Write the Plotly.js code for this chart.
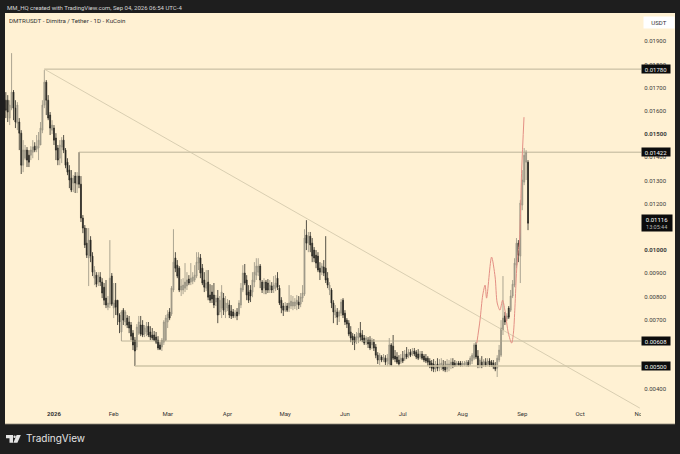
<!DOCTYPE html>
<html>
<head>
<meta charset="utf-8">
<script src="https://cdn.plot.ly/plotly-3.0.1.min.js"></script>
<style>html,body{margin:0;padding:0;background:#1e1e1e}</style>
</head>
<body>
<div id="chart" style="width:680px;height:454px"></div>
<script>
// daily candles from 2025-12-07 to 2026-09-04, prices in 0.00001 USDT
var opens = [
1646,1646,1569,1612,1681,1612,1547,1552,1504,1366,
1396,1431,1409,1409,1422,1448,1435,1440,1453,1517,
1625,1724,1646,1582,1517,1526,1483,1440,1396,1444,
1474,1431,1379,1345,1310,1289,1319,1284,1319,1284,
1138,1095,1030,966,1043,974,879,892,862,884,
862,840,793,754,767,888,750,784,784,720,
647,741,690,707,690,677,642,612,582,642,
677,677,638,647,672,647,634,634,625,612,
591,582,603,612,690,733,724,828,966,935,
922,828,828,836,845,875,862,866,871,888,
944,966,922,871,836,862,806,819,806,776,
793,733,750,793,733,750,763,737,733,716,
733,724,763,828,901,871,819,828,819,862,
892,905,931,862,836,862,858,828,845,832,
836,879,836,784,759,741,759,750,759,759,
759,767,776,767,793,810,1065,1030,1060,1030,
1000,978,974,922,905,927,922,879,828,828,
772,720,733,716,728,784,728,698,685,647,
629,625,612,621,642,634,621,603,612,612,
591,603,582,547,526,539,526,534,522,509,
591,586,543,539,526,517,534,530,552,543,
560,552,565,560,552,539,552,543,534,534,
522,513,509,487,509,491,496,504,500,487,
496,500,517,513,504,513,513,504,504,504,
517,509,522,534,591,543,500,517,504,517,
509,522,517,513,504,491,526,547,655,716,
703,750,741,802,849,935,1030,974,1194,1293,
1379,1379];
var highs = [
1681,1668,1646,1849,1690,1646,1638,1569,1517,1474,
1453,1444,1431,1448,1474,1465,1496,1509,1552,1646,
1776,1733,1668,1595,1560,1539,1504,1453,1474,1487,
1496,1440,1396,1366,1345,1323,1336,1336,1422,1319,
1151,1108,1095,1095,1060,991,931,905,905,905,
879,858,871,802,1043,901,858,858,784,728,
741,750,741,720,716,690,655,625,681,716,
716,698,677,690,690,672,664,651,647,629,
603,621,698,720,741,750,845,1090,991,957,
931,875,879,944,905,892,944,905,935,991,
991,983,940,905,914,914,853,849,858,806,
828,802,849,815,802,789,784,763,746,741,
750,784,858,935,940,892,849,849,905,948,
965,965,940,871,879,871,875,871,862,888,
892,905,849,797,772,776,772,849,806,802,
793,806,802,815,849,1090,1129,1078,1078,1052,
1013,1000,991,948,944,957,1060,905,862,836,
784,763,750,741,789,793,741,707,698,672,
642,638,647,664,690,655,634,629,625,629,
621,616,595,560,556,547,552,547,552,621,
599,634,569,560,547,552,565,569,582,573,
573,578,578,569,573,565,565,552,552,543,
534,526,530,522,534,530,534,526,522,530,
526,534,534,526,522,522,522,522,522,526,
526,543,556,599,603,569,534,543,530,534,
534,534,526,526,517,547,591,698,888,733,
728,759,828,871,965,1052,1043,1215,1345,1440,
1431,1388];
var lows = [
1569,1552,1539,1603,1560,1526,1517,1431,1328,1336,
1388,1358,1358,1388,1396,1422,1422,1388,1453,1504,
1612,1582,1560,1496,1500,1453,1388,1366,1366,1375,
1418,1353,1323,1267,1250,1250,1246,1246,1267,1121,
1073,1009,966,845,948,888,849,840,845,845,
793,763,750,741,750,759,707,720,677,642,
608,677,672,664,642,612,569,500,569,634,
629,625,625,629,625,612,612,608,595,569,
569,565,591,608,664,698,716,819,905,879,
819,802,810,819,828,849,849,853,862,879,
914,879,849,819,823,784,772,772,750,759,
685,720,707,720,707,737,707,703,707,707,
698,716,750,819,849,784,772,776,797,840,
871,888,836,815,810,810,815,815,815,815,
823,828,763,728,716,733,733,733,746,741,
746,741,746,754,776,802,1000,991,991,948,
948,922,905,871,892,888,858,836,806,750,
685,707,677,690,716,707,677,664,629,603,
591,569,595,599,608,603,591,591,578,569,
573,565,534,509,504,517,517,504,500,500,
500,526,517,509,500,509,513,522,530,534,
539,543,543,530,526,530,526,517,513,500,
491,478,474,474,478,478,483,478,474,474,
478,487,491,496,496,500,496,496,500,496,
496,500,509,526,530,491,491,491,496,496,
500,496,496,487,478,453,517,539,634,677,
694,703,733,793,840,922,948,858,1172,1280,
1302,1086];
var closes = [
1603,1595,1625,1681,1612,1552,1625,1504,1366,1431,
1431,1388,1379,1431,1444,1431,1448,1474,1526,1625,
1724,1646,1569,1526,1539,1474,1431,1388,1453,1474,
1431,1366,1336,1302,1259,1310,1289,1319,1284,1138,
1095,1022,978,1043,974,905,914,853,892,862,
815,784,763,772,879,767,772,754,720,690,
733,698,733,677,664,629,591,565,668,690,
638,634,664,672,634,625,621,612,603,578,
573,612,690,707,724,707,836,948,922,888,
828,845,849,862,871,858,879,884,892,948,
970,901,858,840,858,797,784,789,763,793,
720,784,819,741,772,772,720,716,716,728,
716,772,836,901,858,806,784,802,871,905,
931,931,871,828,862,828,828,849,828,849,
858,840,772,750,741,759,741,772,780,776,
776,784,763,797,815,1052,1030,1060,1022,974,
966,944,914,905,931,901,871,849,849,772,
733,741,711,733,776,720,690,681,638,621,
612,603,629,642,625,612,599,621,595,578,
612,578,547,526,547,526,539,517,534,591,
504,534,530,517,509,534,522,552,539,560,
547,565,552,539,534,552,534,526,522,517,
504,491,487,504,491,509,513,487,483,509,
509,517,500,500,513,504,500,513,513,517,
500,534,547,591,539,504,526,500,522,504,
522,504,504,496,487,534,569,664,707,690,
716,711,802,853,944,1030,978,1203,1302,1409,
1422,1116];

var level_values = [0.0178, 0.01422, 0.00608, 0.005];
var level_starts = ['2025-12-27', '2026-01-14', '2026-02-05', '2026-02-12'];
var level_labels = ['0.01780', '0.01422', '0.00608', '0.00500'];

var trend_dates = ['2025-12-27', '2026-11-01'];
var trend_prices = [0.0178, 0.00319];

var curve_dates = ['2026-08-08 10:00','2026-08-10 02:00','2026-08-11 12:00','2026-08-12 17:00','2026-08-13 12:00',
  '2026-08-16 02:00','2026-08-17 22:00','2026-08-19 00:00','2026-08-20 10:00','2026-08-21 19:00','2026-08-23 00:00',
  '2026-08-24 19:00','2026-08-26 12:00','2026-08-27 10:00','2026-08-28 05:00','2026-08-29 02:00','2026-08-30 00:00',
  '2026-08-30 12:00','2026-08-31 17:00','2026-09-01 22:00'];
var curve_prices = [0.00599,0.00698,0.00806,0.00849,0.00793,
  0.0097,0.00884,0.00772,0.00741,0.00784,0.00741,
  0.00642,0.00599,0.00642,0.00754,0.00914,0.01,
  0.0103,0.01345,0.01573];

var price_ticks = [0.004,0.007,0.008,0.009,0.01,0.012,0.013,0.014,0.015,0.016,0.017,0.018,0.019];
var price_tick_text = ['0.00400','0.00700','0.00800','0.00900','<b>0.01000</b>','0.01200','0.01300','0.01400','<b>0.01500</b>','0.01600','0.01700','0.01800','0.01900'];
var month_ticks = ['2026-01-01','2026-02-01','2026-03-01','2026-04-01','2026-05-01','2026-06-01','2026-07-01','2026-08-01','2026-09-01','2026-10-01','2026-11-01'];
var month_labels = ['<b>2026</b>','Feb','Mar','Apr','May','Jun','Jul','Aug','Sep','Oct','Nov'];

var dates = [];
for (var i = 0; i < opens.length; i++) {
  dates.push(new Date(Date.UTC(2025, 11, 7 + i)).toISOString().slice(0, 10));
}
function price(a) { return a.map(function (v) { return v / 100000; }); }

var cream = '#fff1d3';
var dark = '#1e1e1e';
var W = 680, H = 454, L = 5, R = 39, T = 13, B = 45;

function px(x) { return (x - L) / (W - L - R); }
function py(y) { return 1 - (y - T) / (H - T - B); }

var data = [];
level_values.forEach(function (v, k) {
  data.push({
    x: [level_starts[k], '2026-11-05'], y: [v, v], mode: 'lines', type: 'scatter',
    line: {color: k == 3 ? '#cfc5a6' : '#aca58b', width: k == 3 ? 1.5 : 0.8}, hoverinfo: 'skip'
  });
});
data.push({
  x: trend_dates, y: trend_prices, mode: 'lines', type: 'scatter',
  line: {color: '#cfc5a8', width: 0.8}, hoverinfo: 'skip'
});
data.push({
  type: 'candlestick', x: dates,
  open: price(opens), high: price(highs), low: price(lows), close: price(closes),
  increasing: {line: {color: '#979282', width: 0.8}, fillcolor: '#aaa596'},
  decreasing: {line: {color: '#2a2823', width: 0.8}, fillcolor: '#1a1915'},
  whiskerwidth: 0
});
data.push({
  x: curve_dates, y: curve_prices, mode: 'lines', type: 'scatter',
  line: {color: '#e48f84', width: 1, shape: 'spline', smoothing: 0.8}, hoverinfo: 'skip'
});

var annotations = [{
  xref: 'paper', yref: 'paper', x: px(5), y: py(7.5), xanchor: 'left', yanchor: 'middle', showarrow: false,
  text: 'MM_HQ created with TradingView.com, Sep 04, 2026 06:54 UTC-4',
  font: {family: 'Roboto', size: 6, color: '#d6d6d6'}
}, {
  xref: 'paper', yref: 'paper', x: px(24), y: py(438.5), xanchor: 'left', yanchor: 'middle', showarrow: false,
  text: 'TradingView', font: {family: 'Inter', size: 10, color: '#e4e4e4'}
}, {
  xref: 'paper', yref: 'paper', x: px(643), y: py(22.5), xanchor: 'left', yanchor: 'middle', showarrow: false,
  width: 30, height: 11, borderpad: 0, bgcolor: '#ffffff', align: 'center',
  text: 'USDT', font: {family: 'Roboto', size: 6, color: '#333333'}
}, {
  xref: 'paper', yref: 'y', x: px(641), y: 0.01116, xanchor: 'left', yanchor: 'middle', showarrow: false,
  width: 30, height: 16, borderpad: 0, bgcolor: '#0c0c0c', align: 'center',
  text: '0.01116<br><span style="font-size:5.5px;color:#b5b5b5">13:05:44</span>',
  font: {family: 'Roboto', size: 6, color: '#ffffff'}
}];
level_values.forEach(function (v, k) {
  annotations.push({
    xref: 'paper', yref: 'y', x: px(641), y: v, xanchor: 'left', yanchor: 'middle', showarrow: false,
    width: 28, height: 8, borderpad: 0, bgcolor: '#0c0c0c', align: 'center',
    text: level_labels[k], font: {family: 'Roboto', size: 6, color: '#f2f2f2'}
  });
});

var logo_fill = '#e4e4e4';
function logoPath(pts) {
  return 'M' + pts.map(function (p) { return px(p[0]) + ',' + py(p[1]); }).join('L') + 'Z';
}
var shapes = [{
  // whole chart panel, including the price and time scales
  type: 'rect', xref: 'paper', yref: 'paper', x0: px(5), x1: px(675), y0: py(424), y1: py(13),
  fillcolor: cream, line: {width: 0}, layer: 'below'
}, {
  // time scale stops at the price scale, so the last month label is cut off
  type: 'rect', xref: 'paper', yref: 'paper', x0: px(641), x1: px(675), y0: py(424), y1: py(409),
  fillcolor: cream, line: {width: 0}, layer: 'above'
}, {
  type: 'line', xref: 'paper', yref: 'paper', x0: px(5), x1: px(675), y0: py(424), y1: py(424),
  line: {color: '#8c8776', width: 0.8}
}, {
  type: 'path', xref: 'paper', yref: 'paper', fillcolor: logo_fill, line: {width: 0},
  path: logoPath([[6,435],[13,435],[13,442.7],[9.5,442.7],[9.5,438.2],[6,438.2]])
}, {
  type: 'circle', xref: 'paper', yref: 'paper', fillcolor: logo_fill, line: {width: 0},
  x0: px(13.4), x1: px(15.8), y0: py(438), y1: py(435.4)
}, {
  type: 'path', xref: 'paper', yref: 'paper', fillcolor: logo_fill, line: {width: 0},
  path: logoPath([[16.6,435],[20.8,435],[17.4,442.7],[13.4,442.7]])
}];

var layout = {
  width: W, height: H,
  margin: {l: L, r: R, t: T, b: B, pad: 0},
  paper_bgcolor: dark,
  plot_bgcolor: 'rgba(0,0,0,0)',
  showlegend: false,
  title: {
    text: 'DMTRUSDT - Dimitra / Tether - 1D - KuCoin',
    x: 9 / W, xref: 'container', xanchor: 'left', y: 1 - 20.5 / H, yref: 'container', yanchor: 'middle',
    font: {family: 'Roboto', size: 6.2, color: '#333333'}
  },
  xaxis: {
    type: 'date', range: ['2025-12-06 14:00', '2026-11-01 15:00'],
    showgrid: false, zeroline: false, showline: false,
    rangeslider: {visible: false},
    tickmode: 'array', tickvals: month_ticks, ticktext: month_labels,
    ticks: '', tickangle: 0, tickfont: {family: 'Roboto', size: 6, color: '#333333'}
  },
  yaxis: {
    side: 'right', range: [0.00315, 0.02022],
    showgrid: false, zeroline: false, showline: false,
    tickmode: 'array', tickvals: price_ticks, ticktext: price_tick_text,
    ticks: 'outside', ticklen: 1, tickcolor: 'rgba(0,0,0,0)',
    tickfont: {family: 'Roboto', size: 6, color: '#3a3a3a'}
  },
  shapes: shapes,
  annotations: annotations
};

Plotly.newPlot('chart', data, layout, {displayModeBar: false, staticPlot: true});
</script>
</body>
</html>
